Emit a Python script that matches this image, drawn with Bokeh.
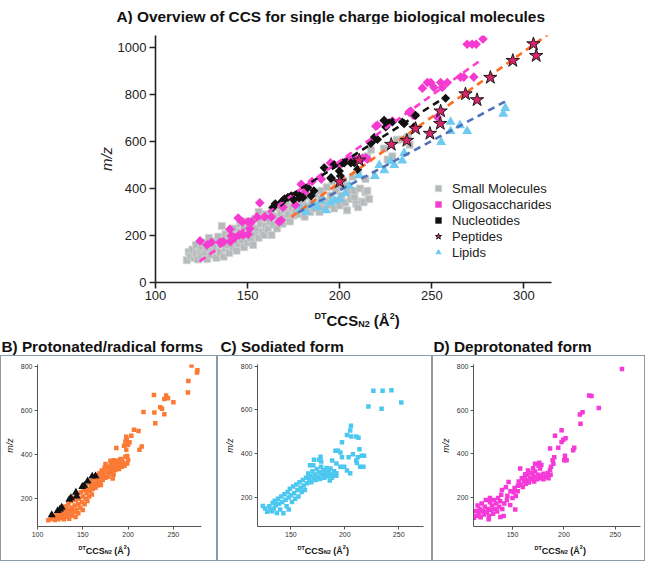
import math
from bokeh.plotting import figure
from bokeh.models import Legend, LegendItem, FixedTicker, Range1d
from bokeh.layouts import column, row
from bokeh.embed import file_html
from bokeh.resources import INLINE
from bokeh.core.properties import value

FONT = "Liberation Sans"

# ---------------- data: panel A ----------------
small_mol = [(117,95),(118,130),(119,112),(120,140),(121,105),(122,120),(122,160),(123,98),(124,132),(125,150),(125,112),(126,170),(127,125),(128,100),(128,145),(129,190),(130,118),(130,160),(131,135),(132,175),(133,105),(133,150),(134,195),(135,128),(135,165),(136,240),(137,110),(137,180),(138,145),(138,205),(139,160),(140,125),(140,190),(141,215),(142,150),(142,175),(143,230),(144,135),(144,200),(145,165),(146,215),(146,250),(147,180),(148,150),(148,230),(149,200),(150,170),(150,260),(151,220),(152,185),(152,240),(153,160),(154,205),(154,270),(155,230),(156,190),(156,300),(157,250),(158,215),(158,275),(159,202),(160,240),(160,290),(161,225),(162,260),(163,202),(163,305),(164,245),(165,280),(166,230),(166,320),(167,265),(168,295),(169,250),(170,310),(170,275),(171,330),(172,290),(173,260),(174,315),(175,285),(175,345),(176,300),(177,330),(178,290),(179,355),(180,310),(180,340),(181,280),(182,325),(183,365),(184,300),(185,340),(186,315),(187,375),(188,330),(189,300),(190,355),(190,390),(191,320),(192,345),(193,405),(194,330),(195,370),(196,430),(197,315),(198,390),(199,350),(200,415),(200,328),(201,370),(202,432),(203,340),(204,307),(204,411),(205,390),(206,355),(207,450),(208,362),(208,390),(209,335),(210,470),(210,320),(211,400),(212,345),(213,341),(214,383),(214,440),(215,537),(215,390),(216,355),(217,565),(226,523),(228.6,537),(231,607),(234,609),(237,620),(238,586),(224,570)]
sm_x = [a for a, b in small_mol]
sm_y = [b for a, b in small_mol]

oligo_x = [124.2,128,130.4,135,136.8,140.7,140.4,141.2,143,145.4,147.6,150.3,151.2,152.1,144.9,147.2,150.3,155.1,156.6,159.3,162.9,167.1,168.2,169.2,176,179.1,180.9,185,190,195,200,204.3,206.1,208.8,211.5,212.4,214.2,215.1,219.6,220.5,224.2,228.6,237.7,238.6,239.6,240.3,244.9,247.6,249.4,251.2,253,254.8,255.7,258.4,265.6,267.4,272.8,269.2,271.9,274.1,277.8]
oligo_y = [177,160,171,171,173,174,227,199,190,202,202,205,230,258,274,258,258,279,339,279,279,258,265,320,330,418,383,430,440,509,500,523,523,526,523,530,530,525,665,669,687,687,725,729,714,711,827,851,851,830,704,851,830,851,874,874,874,1014,1014,1014,1036]

nucl_x = [163.8,165,168.3,169.2,170.1,171.9,173.7,175,177.3,178,180,182.7,184.5,186,191.6,195.3,195.3,197,199.8,200.4,201.6,202.5,206.1,208,209.7,216.9,218.8,220.5,224.1,225,226.8,228.6,234,235,240.3,241.2,257.5]
nucl_y = [320,335,341,348,356,362,369,352,377,360,362,404,369,390,488,443,446,502,474,453,509,509,509,509,481,592,618,609,690,662,679,683,683,676,662,711,784]

pept_x = [200,210.6,228,236.5,241.2,249,254.6,254.8,268.3,274.6,281.8,294,305.2,306.7]
pept_y = [428,520,587,604,655,634,676,729,802,777,872,944,1015,965]

lipid_x = [179,181.8,184.5,186.3,188,189.9,192.6,195,197.1,200,203,205.2,210.6,219.1,221.5,224.2,227.7,229.6,234,235,255.1,260.2,260.2,265.3,269.2,288.8,289.9]
lipid_y = [314,300,328,330,320,348,307,340,348,355,380,411,456,453,499,477,516,499,519,551,597,683,644,669,644,718,742]

# fitted trend lines (end points)
fit_oligo_x, fit_oligo_y = [124, 275.5], [90, 940]
fit_nucl_x, fit_nucl_y = [162.7, 257.5], [318, 790]
fit_pept_x, fit_pept_y = [173.7, 315], [279, 1066]
fit_lipid_x, fit_lipid_y = [177.3, 290.8], [297, 774]

a_xticks = [100, 150, 200, 250, 300]
a_yticks = [0, 200, 400, 600, 800, 1000]

# ---------------- data: panel B ----------------
prot = [(270,803),(276.5,781),(276,771),(266.5,732),(266,680),(228.5,669),(242,667),(244,655),(240,651),(250,636),(235.5,614),(237.5,607),(240,582),(229,590),(230,542),(217,592),(211.5,507),(206.5,512),(203.5,485),(198,480),(198.5,467),(197,459),(201.5,456),(200,444),(195.5,440),(198,422),(215,437),(212.5,422),(187,430),(199,393),(190.5,376),(184.5,374),(180.5,372),(187,360),(193,372),(185,342),(181.5,342),(175,357),(171,328),(183,292),
        (112,103),(115,110),(117,118),(119,104),(120,125),(121,112),(122,135),(123,108),(124,120),(125,142),(126,115),(127,130),(128,150),(129,108),(130,122),(130,165),(131,140),(132,118),(133,155),(134,130),(134,175),(135,110),(136,145),(137,190),(138,125),(138,160),(139,205),(140,140),(141,170),(142,118),(142,195),(143,150),(144,215),(145,175),(145,135),(146,200),(147,160),(148,230),(149,185),(150,150),(150,210),(151,240),(152,175),(153,200),(153,255),(154,225),(155,190),(156,245),(157,210),(157,270),(158,235),(159,255),(160,220),(160,280),(161,245),(162,265),(163,295),(164,250),(165,275),(165,305),(166,260),(167,290),(168,315),(169,275),(170,300),(170,262),(171,320),(172,285),(173,305),(174,340),(175,295),(176,320),(177,345),(178,300),(179,330),(180,315),(181,355),(182,325),(183,340),(184,310),(185,360),(186,330),(188,345),(189,370),(190,335),(191,355),(192,380),(193,345),(194,365),(196,350),(197,390),(199,360),(200,375)]
prot_x = [a for a, b in prot]
prot_y = [b for a, b in prot]
rad_x = [115.7,122.3,124.9,126.7,135.1,136.9,142.4,143.2,149.4,151.6,155.3,160.4,164]
rad_y = [127,146,153,161,197,204,229,212,255,260,280,302,303]

# ---------------- data: panel C ----------------
sod = [(226.5,687),(235,687),(243.3,690),(221.9,615),(234.1,605),(252.4,634),(205.7,528),(205,506),(197.4,452),(202,485),(206,478),(210.6,478),(212.7,473),(213.6,420),(215.7,391),(217.9,391),(212.1,384),(210.6,369),(211.2,358),(214.2,340),(217.3,340),(207.5,398),(203.5,384),(197.4,384),(195.9,405),(193.7,413),(191.3,413),(199.5,340),(202,323),(205,311),(195.9,340),(192.2,355),(188.2,369),(186.7,333),(192.2,311),(189.8,307),(185.2,311),(186.1,278),(182.1,297),(177.5,386),(176,372),(178.1,365),(171.4,372),(167.7,347),(170.8,347),(166.8,297),
       (124,162),(131,142),(132.5,138),(126,150),(128,135),(130,160),(133,175),(134,150),(135,185),(136,165),(137,130),(138,195),(139,172),(140,145),(141,205),(142,180),(143,128),(144,215),(145,190),(146,160),(147,225),(148,200),(148,145),(149,240),(150,210),(151,180),(152,250),(153,220),(154,195),(155,260),(156,235),(157,205),(158,270),(159,245),(160,225),(161,280),(162,255),(163,235),(164,290),(165,265),(166,310),(167,280),(168,300),(169,270),(170,320),(171,290),(172,305),(173,280),(174,330),(175,295),(176,315),(177,285),(178,340),(179,305),(180,325),(181,290),(182,315),(183,335),(184,300),(185,320),(187,305),(188,290),(190,320),(192,300)]
sod_x = [a for a, b in sod]
sod_y = [b for a, b in sod]

# ---------------- data: panel D ----------------
deprot = [(256.5,786),(224.5,666),(226.8,664),(233.9,609),(218.1,590),(215.5,580),(216.1,537),(197.7,508),(191.3,483),(201.6,472),(199.4,465),(197.7,454),(210,428),(209,417),(201,392),(200.3,371),(202.6,371),(194.5,428),(186.5,425),(190.6,385),(189,371),(189.7,356),(187.4,342),(186.5,327),(184.2,313),(180,310),(171.9,356),(175.2,346),(176.8,334),(157.4,334),(162.3,308),(155.2,255),(151,226),(153.2,209),(146.1,272),(143.5,248),(139.7,236),(139,214),(152.6,147),(144.5,190),(147.7,168),(141.3,118),(138.1,113),(126.8,103),(112.3,110),(110.6,125),
          (114,140),(115,118),(116,165),(117,130),(118,150),(119,112),(120,175),(121,140),(122,125),(123,160),(124,190),(125,135),(126,150),(127,118),(128,180),(128,200),(129,145),(130,165),(131,128),(132,190),(133,150),(134,175),(135,138),(136,200),(137,160),(138,185),(140,150),(142,175),(145,210),(148,230),(150,200),(152,245),(155,230),(156,275),(158,260),(159,290),(160,250),(161,275),(162,295),(163,265),(164,280),(165,305),(166,270),(167,290),(168,315),(169,285),(170,300),(171,275),(172,320),(173,295),(174,285),(175,305),(177,290),(178,300),(180,285),(182,295),(184,300),(185,290),(187,305),(176,360),(178,350),(165,325),(170,335)]
dep_x = [a for a, b in deprot]
dep_y = [b for a, b in deprot]

sub_yticks = [200, 400, 600, 800]
b_xticks = [100, 150, 200, 250]
cd_xticks = [150, 200, 250]

# ---------------- helpers ----------------
W = {"D": .722, "T": .611, "C": .722, "S": .667, "N": .722, "2": .556, " ": .278, "(": .333, "Å": .722, ")": .333}

def tw(s, size):
    return sum(W.get(ch, .6) for ch in s) * size

def no_align(f):
    if "frame_align" in f.properties():
        f.frame_align = False
    return f

def strip(w, h):
    s = figure(width=w, height=h, x_range=Range1d(0, w), y_range=Range1d(h, 0),
               x_axis_type=None, y_axis_type=None, output_backend="svg", toolbar_location=None,
               min_border=0, min_border_left=0, min_border_right=0, min_border_top=0, min_border_bottom=0)
    s.outline_line_color = None
    s.grid.visible = False
    return no_align(s)

def put_text(s, x, y, txt, size, align="left"):
    s.text(x=[x], y=[y], text=[txt], text_font=value(FONT), text_font_style="bold",
           text_font_size=value(f"{size}px"), text_color="#111111",
           text_baseline="alphabetic", text_align=align)

def ccs_label(s, x0, y0, fb, fs):
    up = 0.716 * (fb - fs)
    dn = 0.2 * fb
    parts = [("DT", fs, up, 0), ("CCS", fb, 0, 0), ("N2", fs, -dn, 0), ("(Å", fb, 0, tw(" ", fb)),
             ("2", fs, up + 0.5, 0), (")", fb, 0, 0)]
    x = x0
    for txt, sz, dy, gap in parts:
        x += gap
        put_text(s, x, y0 - dy, txt, sz)
        x += tw(txt, sz)

def style_axis(ax, lw, col, tick_out, fsize, fcol, standoff):
    ax.axis_line_width = lw
    ax.axis_line_color = col
    ax.major_tick_line_color = col
    ax.major_tick_line_width = lw
    ax.major_tick_out = tick_out
    ax.major_tick_in = 0
    ax.minor_tick_line_color = None
    ax.major_label_text_font = FONT
    ax.major_label_text_font_size = fsize
    ax.major_label_text_color = fcol
    ax.major_label_standoff = standoff

# ---------------- title strip ----------------
top = strip(645, 24)
put_text(top, 116, 16, "A) Overview of CCS for single charge biological molecules", 15.4)

# ---------------- panel A ----------------
p = figure(width=645, height=282, x_range=Range1d(100, 315), y_range=Range1d(0, 1051),
           output_backend="svg", toolbar_location=None,
           min_border_left=155, min_border_right=94, min_border_top=11, min_border_bottom=24)
no_align(p)
p.outline_line_color = None
p.grid.visible = False
style_axis(p.xaxis[0], 1.6, "#222222", 6, "13px", "#222222", 2)
style_axis(p.yaxis[0], 1.6, "#222222", 6, "13px", "#222222", 3)
p.xaxis.ticker = FixedTicker(ticks=a_xticks)
p.yaxis.ticker = FixedTicker(ticks=a_yticks)
p.yaxis.axis_label = "m/z"
p.yaxis.axis_label_text_font = FONT
p.yaxis.axis_label_text_font_style = "italic"
p.yaxis.axis_label_text_font_size = "15px"
p.yaxis.axis_label_text_color = "#222222"
p.yaxis.axis_label_standoff = 0

DIAMOND = math.pi / 4
r_sm = p.scatter(sm_x, sm_y, marker="square", size=7, fill_color="#b6baba", line_color="#cfd3d3", line_width=0.8)
r_li = p.scatter(lipid_x, lipid_y, marker="triangle", size=10, fill_color="#6ecbef", line_color=None)
r_ol = p.scatter(oligo_x, oligo_y, marker="square", angle=DIAMOND, size=6.8, fill_color="#f53ad0", line_color=None)
r_nu = p.scatter(nucl_x, nucl_y, marker="square", angle=DIAMOND, size=6.5, fill_color="#111111", line_color=None)
p.line(fit_oligo_x, fit_oligo_y, line_color="#ff3cd2", line_width=2.6, line_dash="7 5")
p.line(fit_nucl_x, fit_nucl_y, line_color="#111111", line_width=2.6, line_dash="7 5")
p.line(fit_pept_x, fit_pept_y, line_color="#ff6a1f", line_width=2.6, line_dash="7 5")
p.line(fit_lipid_x, fit_lipid_y, line_color="#4f72b8", line_width=2.6, line_dash="7 5")
r_pe = p.scatter(pept_x, pept_y, marker="star", size=14, fill_color="#d8256c", line_color="#1a1a1a", line_width=1)

legend = Legend(items=[LegendItem(label="Small Molecules", renderers=[r_sm]),
                       LegendItem(label="Oligosaccharides", renderers=[r_ol]),
                       LegendItem(label="Nucleotides", renderers=[r_nu]),
                       LegendItem(label="Peptides", renderers=[r_pe]),
                       LegendItem(label="Lipids", renderers=[r_li])],
                location=(275, 22), orientation="vertical",
                background_fill_alpha=0, border_line_color=None,
                label_text_font=FONT, label_text_font_size="13px", label_text_color="#222222",
                glyph_width=16, glyph_height=16, label_height=16, spacing=0, padding=0, margin=0,
                label_standoff=6)
p.add_layout(legend)

# ---------------- x label + sub-titles strip ----------------
mid = strip(645, 49)
ccs_label(mid, 314, 14, 15, 9)
put_text(mid, 1, 40, "B) Protonated/radical forms", 15.3)
put_text(mid, 220, 40, "C) Sodiated form", 15.3)
put_text(mid, 433, 40, "D) Deprotonated form", 15.3)

# ---------------- panels B, C, D ----------------
BOX = {"border": "1px solid #8d9ba6"}

def sub(w, xr, yr, bl, br, xticks):
    f = figure(width=w, height=183, x_range=Range1d(*xr), y_range=Range1d(*yr),
               output_backend="svg", toolbar_location=None,
               min_border_left=bl, min_border_right=br, min_border_top=8, min_border_bottom=13)
    no_align(f)
    f.outline_line_color = None
    f.grid.visible = False
    style_axis(f.xaxis[0], 1, "#555555", 3, "7px", "#333333", 2)
    style_axis(f.yaxis[0], 1, "#555555", 3, "7px", "#333333", 2)
    f.xaxis.ticker = FixedTicker(ticks=xticks)
    f.yaxis.ticker = FixedTicker(ticks=sub_yticks)
    f.yaxis.axis_label = "m/z"
    f.yaxis.axis_label_text_font = FONT
    f.yaxis.axis_label_text_font_style = "italic"
    f.yaxis.axis_label_text_font_size = "9px"
    f.yaxis.axis_label_text_color = "#222222"
    f.yaxis.axis_label_standoff = 3
    return f

pb = sub(215, (100, 281), (75, 807), 35, 15, b_xticks)
pb.scatter(prot_x, prot_y, marker="square", size=4.5, fill_color="#fb7a35", line_color=None)
pb.scatter(rad_x, rad_y, marker="triangle", size=8, fill_color="#111111", line_color=None)
sb = strip(215, 21)
ccs_label(sb, 77, 11, 9, 5.5)

pc = sub(213, (119, 273), (68, 807), 39, 8, cd_xticks)
pc.scatter(sod_x, sod_y, marker="square", size=4.5, fill_color="#4cc8f0", line_color=None)
sc = strip(213, 21)
ccs_label(sc, 79, 11, 9, 5.5)

pd_ = sub(211, (112, 274.5), (70, 807), 40, 4, cd_xticks)
pd_.scatter(dep_x, dep_y, marker="square", size=4.5, fill_color="#f53ad8", line_color=None)
sd = strip(211, 21)
ccs_label(sd, 101, 11, 9, 5.5)

bottom = row(column(pb, sb, spacing=0, styles=BOX),
             column(pc, sc, spacing=0, styles=BOX),
             column(pd_, sd, spacing=0, styles=BOX), spacing=0)
layout = column(top, p, mid, bottom, spacing=0)
open("out.html", "w").write(file_html(layout, INLINE))
